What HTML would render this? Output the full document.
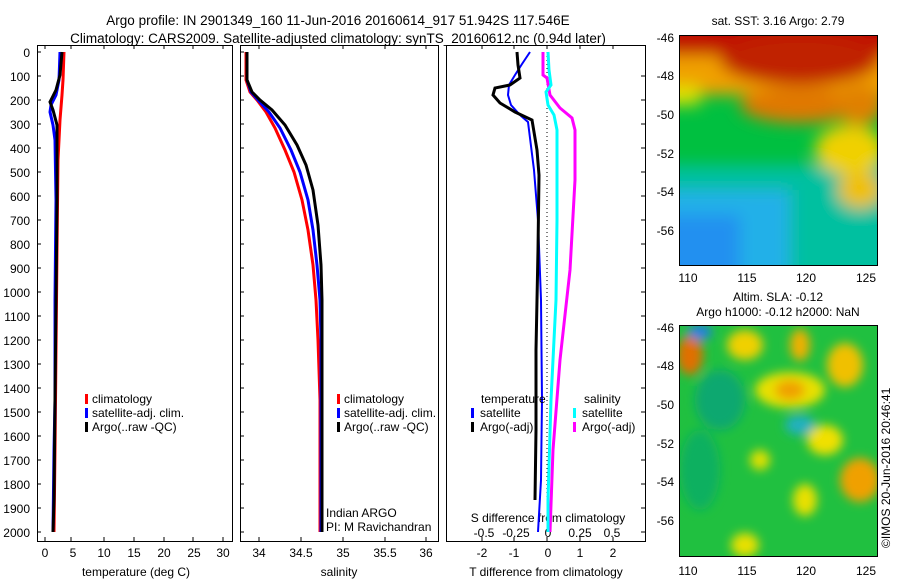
<!DOCTYPE html><html><head><meta charset="utf-8"><style>body{margin:0;background:#fff}svg{display:block;font-family:"Liberation Sans",sans-serif}</style></head><body>
<svg width="900" height="580" viewBox="0 0 900 580" xmlns="http://www.w3.org/2000/svg">
<defs>
<filter id="b1" x="-20%" y="-20%" width="140%" height="140%"><feGaussianBlur stdDeviation="8"/></filter>
<filter id="b2" x="-30%" y="-30%" width="160%" height="160%"><feGaussianBlur stdDeviation="5"/></filter>
<clipPath id="c1"><rect x="679" y="35" width="198" height="230"/></clipPath>
<clipPath id="c2"><rect x="679" y="325" width="198" height="231"/></clipPath>
</defs>
<g font-size="13.5" text-anchor="middle" fill="#000">
<text x="338" y="25">Argo profile: IN 2901349_160 11-Jun-2016 20160614_917 51.942S 117.546E</text>
<text x="338" y="43">Climatology: CARS2009. Satellite-adjusted climatology: synTS_20160612.nc (0.94d later)</text>
</g>
<g fill="none" stroke="#000" stroke-width="1">
<rect x="37.5" y="45.5" width="195" height="496"/>
<rect x="240.5" y="45.5" width="198" height="496"/>
<rect x="446.5" y="45.5" width="199" height="496"/>
</g>
<g font-size="12" text-anchor="end">
<text x="30" y="57">0</text><text x="30" y="81">100</text><text x="30" y="105">200</text><text x="30" y="129">300</text><text x="30" y="153">400</text><text x="30" y="177">500</text><text x="30" y="201">600</text><text x="30" y="225">700</text><text x="30" y="249">800</text><text x="30" y="273">900</text><text x="30" y="297">1000</text><text x="30" y="321">1100</text><text x="30" y="345">1200</text><text x="30" y="369">1300</text><text x="30" y="393">1400</text><text x="30" y="417">1500</text><text x="30" y="441">1600</text><text x="30" y="465">1700</text><text x="30" y="489">1800</text><text x="30" y="513">1900</text><text x="30" y="537">2000</text>
</g>
<g stroke="#000" stroke-width="1">
<path d="M37 52h4M37 76h4M37 100h4M37 124h4M37 148h4M37 172h4M37 196h4M37 220h4M37 244h4M37 268h4M37 292h4M37 316h4M37 340h4M37 364h4M37 388h4M37 412h4M37 436h4M37 460h4M37 484h4M37 508h4M37 532h4"/>
<path d="M240 52h4M240 76h4M240 100h4M240 124h4M240 148h4M240 172h4M240 196h4M240 220h4M240 244h4M240 268h4M240 292h4M240 316h4M240 340h4M240 364h4M240 388h4M240 412h4M240 436h4M240 460h4M240 484h4M240 508h4M240 532h4"/>
<path d="M641 76h4M641 100h4M641 124h4M641 148h4M641 172h4M641 196h4M641 220h4M641 244h4M641 268h4M641 292h4M641 316h4M641 340h4M641 364h4M641 388h4M641 412h4M641 436h4M641 460h4M641 484h4M641 508h4M641 532h4"/>
<path d="M45 541v-4M71 541v-4M104 541v-4M134 541v-4M164 541v-4M193 541v-4M223 541v-4M45 45v4M71 45v4M104 45v4M134 45v4M164 45v4M193 45v4M223 45v4"/>
<path d="M259 541v-4M301 541v-4M343 541v-4M385 541v-4M426 541v-4M259 45v4M301 45v4M343 45v4M385 45v4M426 45v4"/>
<path d="M482 541v-4M514 541v-4M547 541v-4M580 541v-4M613 541v-4M482 45v4M514 45v4M547 45v4M580 45v4M613 45v4"/>
</g>
<g font-size="12" text-anchor="middle">
<text x="45" y="557">0</text><text x="73" y="557">5</text><text x="104" y="557">10</text><text x="134" y="557">15</text><text x="164" y="557">20</text><text x="194" y="557">25</text><text x="223" y="557">30</text>
<text x="136" y="576">temperature (deg C)</text>
<text x="259" y="557">34</text><text x="301" y="557">34.5</text><text x="343" y="557">35</text><text x="385" y="557">35.5</text><text x="426" y="557">36</text>
<text x="339" y="576">salinity</text>
<text x="482" y="557">-2</text><text x="514" y="557">-1</text><text x="548" y="557">0</text><text x="580" y="557">1</text><text x="613" y="557">2</text>
<text x="546" y="576">T difference from climatology</text>
<text x="548" y="522">S difference from climatology</text>
<text x="484" y="537">-0.5</text><text x="516" y="537">-0.25</text><text x="548" y="537">0</text><text x="580" y="537">0.25</text><text x="612" y="537">0.5</text>
</g>
<path d="M547 52V532" stroke="#000" stroke-dasharray="1,3" fill="none"/>
<!-- panel1 -->
<g fill="none" stroke-width="3">
<polyline stroke="#f00" points="64,52 63,80 62,95 60,120 58,160 57,250 56,350 55,450 54,532"/>
<polyline stroke="#00f" points="60,52 59,80 56,95 51,105 50,112 53,125 55,140 56,200 55,300 55,400 54,450 53,532"/>
<polyline stroke="#000" points="62,52 60,75 56,90 52,98 50,102 53,110 57,125 57,200 56,300 55,400 54,500 53,532"/>
</g>
<!-- panel2 -->
<g fill="none" stroke-width="3">
<polyline stroke="#f00" points="246,52 246,80 250,92 257,100 266,112 275,128 285,150 294,172 302,200 308,230 313,265 316,300 318,340 320,400 320,532"/>
<polyline stroke="#00f" points="247,52 247,80 251,92 258,100 269,112 280,128 291,150 300,172 308,200 313,230 317,265 320,300 321,340 321,400 321,532"/>
<polyline stroke="#000" points="247,52 247,80 252,92 260,100 272,110 285,125 297,145 306,165 313,190 318,225 321,265 322,300 322,532"/>
</g>
<!-- panel3 -->
<g fill="none">
<polyline stroke="#f0f" stroke-width="3" points="543,52 543,75 547,78 550,95 560,108 572,118 575,130 575,180 570,270 560,360 553,450 550,532"/>
<polyline stroke="#0ff" stroke-width="3" points="548,52 549,70 551,85 546,92 548,105 554,115 557,130 557,220 556,300 551,400 548,500 548,532"/>
<polyline stroke="#00f" stroke-width="2" points="530,52 522,64 515,75 509,85 508,95 511,105 520,115 528,122 534,170 538,220 541,300 542,400 541,480 538,532"/>
<polyline stroke="#000" stroke-width="3" points="517,52 518,65 520,78 510,85 495,88 493,95 500,103 515,112 532,120 537,150 539,175 538,250 536,350 536,430 535,500"/>
</g>
<!-- legends -->
<g font-size="12">
<rect x="85" y="394" width="3" height="10" fill="#f00"/><text x="92" y="403">climatology</text>
<rect x="85" y="408" width="3" height="10" fill="#00f"/><text x="92" y="417">satellite-adj. clim.</text>
<rect x="85" y="422" width="3" height="10" fill="#000"/><text x="92" y="431">Argo(..raw -QC)</text>
<rect x="337" y="394" width="3" height="10" fill="#f00"/><text x="344" y="403">climatology</text>
<rect x="337" y="408" width="3" height="10" fill="#00f"/><text x="344" y="417">satellite-adj. clim.</text>
<rect x="337" y="422" width="3" height="10" fill="#000"/><text x="344" y="431">Argo(..raw -QC)</text>
<text x="326" y="517">Indian ARGO</text><text x="326" y="531">PI: M Ravichandran</text>
<text x="481" y="403">temperature</text><text x="584" y="403">salinity</text>
<rect x="471" y="408" width="3" height="10" fill="#00f"/><text x="480" y="417">satellite</text>
<rect x="471" y="422" width="3" height="10" fill="#000"/><text x="480" y="431">Argo(-adj)</text>
<rect x="573" y="408" width="3" height="10" fill="#0ff"/><text x="582" y="417">satellite</text>
<rect x="573" y="422" width="3" height="10" fill="#f0f"/><text x="582" y="431">Argo(-adj)</text>
</g>
<!-- map1 -->
<g clip-path="url(#c1)">
<rect x="679" y="35" width="198" height="230" fill="#00c040"/>
<g filter="url(#b1)">
<rect x="660" y="165" width="240" height="120" fill="#00c0a0"/>
<rect x="660" y="190" width="130" height="90" fill="#20b0e8"/>
<rect x="660" y="215" width="80" height="70" fill="#2090f0"/>
<rect x="660" y="20" width="240" height="75" fill="#f0a000"/>
<rect x="660" y="20" width="240" height="35" fill="#c01000"/>
<ellipse cx="800" cy="60" rx="80" ry="25" fill="#c02000"/>
<ellipse cx="800" cy="105" rx="60" ry="18" fill="#e07800"/>
<rect x="660" y="85" width="40" height="20" fill="#e0e000"/>
<ellipse cx="850" cy="150" rx="35" ry="25" fill="#f0d000"/>
<ellipse cx="860" cy="190" rx="22" ry="18" fill="#f0c000"/>
<ellipse cx="860" cy="105" rx="25" ry="20" fill="#e08000"/>
</g>
</g>
<rect x="679.5" y="35.5" width="198" height="230" fill="none" stroke="#000"/>
<!-- map2 -->
<g clip-path="url(#c2)">
<rect x="679" y="325" width="198" height="231" fill="#20c040"/>
<g filter="url(#b2)">
<ellipse cx="690" cy="355" rx="13" ry="20" fill="#e07000"/>
<ellipse cx="700" cy="332" rx="12" ry="8" fill="#2080e0"/>
<ellipse cx="745" cy="345" rx="18" ry="15" fill="#f0d000"/>
<ellipse cx="800" cy="345" rx="10" ry="16" fill="#f0b000"/>
<ellipse cx="790" cy="390" rx="35" ry="18" fill="#e8e000"/>
<ellipse cx="790" cy="390" rx="15" ry="10" fill="#f0a000"/>
<ellipse cx="845" cy="365" rx="18" ry="22" fill="#f0c000"/>
<ellipse cx="825" cy="440" rx="18" ry="15" fill="#f0e000"/>
<ellipse cx="860" cy="480" rx="20" ry="22" fill="#f0a000"/>
<ellipse cx="800" cy="425" rx="15" ry="10" fill="#20b0c0"/>
<ellipse cx="760" cy="460" rx="10" ry="10" fill="#e0e000"/>
<ellipse cx="805" cy="500" rx="12" ry="16" fill="#e8e000"/>
<ellipse cx="745" cy="545" rx="14" ry="12" fill="#e8e000"/>
<ellipse cx="720" cy="400" rx="25" ry="30" fill="#10a870"/>
<ellipse cx="700" cy="470" rx="20" ry="40" fill="#10b060"/>
</g>
</g>
<rect x="679.5" y="325.5" width="198" height="231" fill="none" stroke="#000"/>
<g font-size="12" text-anchor="end">
<text x="674" y="42">-46</text><text x="674" y="80">-48</text><text x="674" y="119">-50</text><text x="674" y="158">-52</text><text x="674" y="196">-54</text><text x="674" y="235">-56</text>
<text x="674" y="332">-46</text><text x="674" y="370">-48</text><text x="674" y="409">-50</text><text x="674" y="448">-52</text><text x="674" y="486">-54</text><text x="674" y="525">-56</text>
</g>
<g font-size="12" text-anchor="middle">
<text x="688" y="282">110</text><text x="747" y="282">115</text><text x="806" y="282">120</text><text x="866" y="282">125</text>
<text x="688" y="575">110</text><text x="747" y="575">115</text><text x="806" y="575">120</text><text x="866" y="575">125</text>
<text x="778" y="25">sat. SST: 3.16 Argo: 2.79</text>
<text x="778" y="301">Altim. SLA: -0.12</text>
<text x="778" y="316">Argo h1000: -0.12 h2000: NaN</text>
</g>
<text font-size="12" transform="translate(890,548) rotate(-90)">©IMOS 20-Jun-2016 20:46:41</text>
</svg>
</body></html>
